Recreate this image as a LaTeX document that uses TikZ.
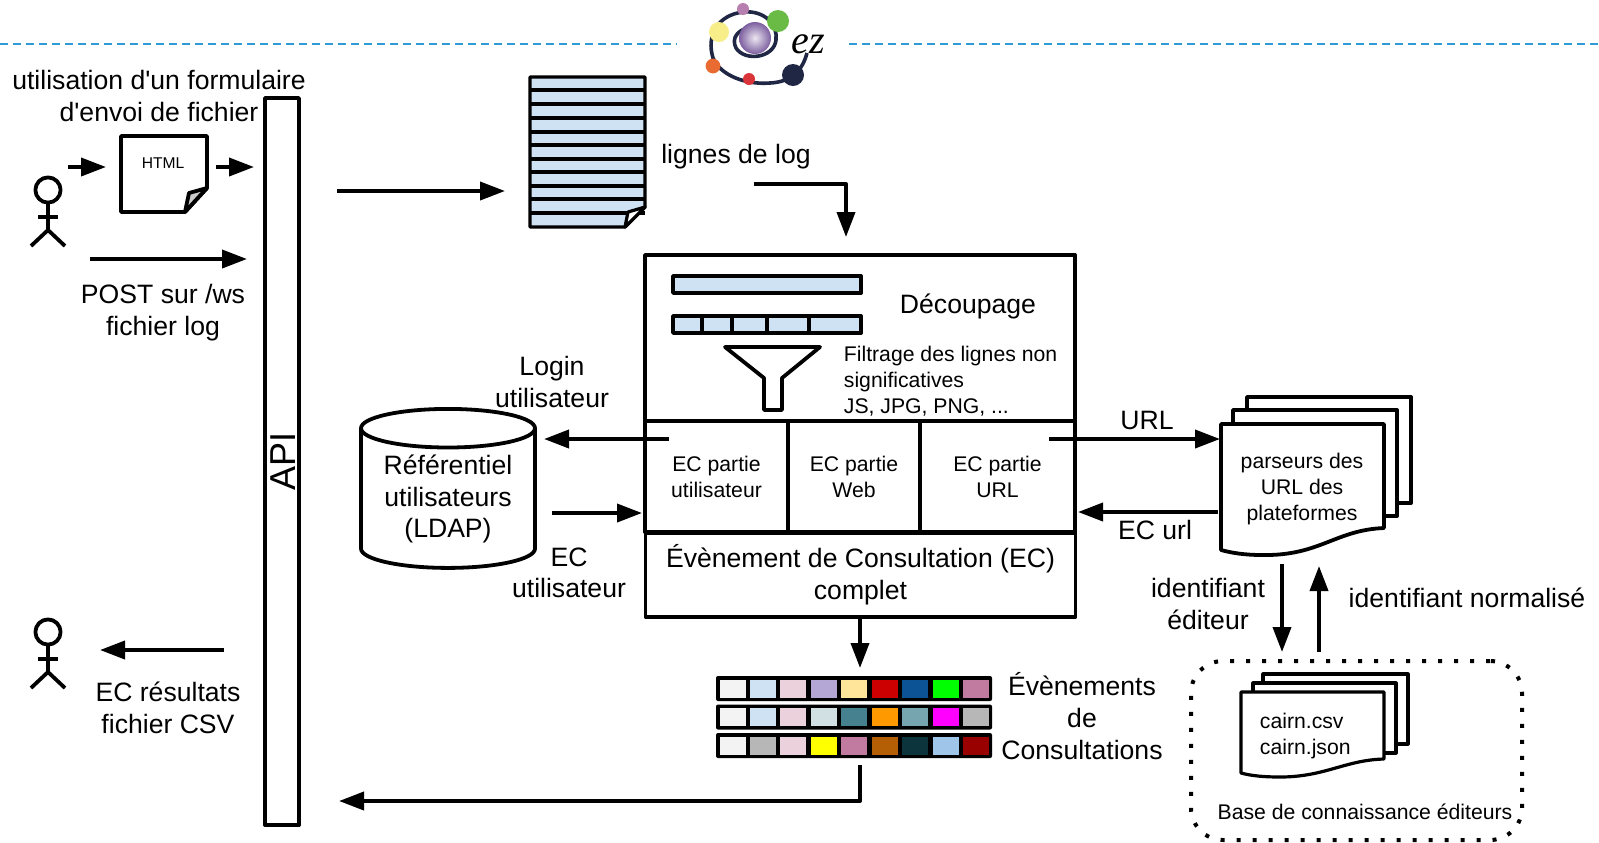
\documentclass[tikz,border=0pt]{standalone}
\usepackage{fontspec}
\setmainfont{Liberation Sans}
\newfontfamily\logofont{Liberation Serif}
\usetikzlibrary{arrows.meta, positioning, shapes.geometric}
\definecolor{bleuligne}{HTML}{CFE2F3}
\definecolor{bleutiret}{HTML}{2E9BD6}
\definecolor{logoVert}{HTML}{6ABB45}
\definecolor{logoRose}{HTML}{B77FB0}
\definecolor{logoJaune}{HTML}{F7EE8A}
\definecolor{logoOrange}{HTML}{E96B32}
\definecolor{logoRouge}{HTML}{D8343A}
\definecolor{logoNuit}{HTML}{1F2744}
\definecolor{logoViolet}{HTML}{7D5FA0}
\tikzset{
	grand/.style={font=\fontsize{13.3}{15.8}\selectfont, align=center, inner sep=0pt},
	petit/.style={font=\fontsize{10.6}{13}\selectfont, align=center, inner sep=0pt},
	cellule/.style={draw, petit, minimum height=55.5pt},
	feuille/.style={draw, fill=white},
	barre/.style={draw, fill=bleuligne}
}
\begin{document}
\begin{tikzpicture}[x=0.5pt,y=-0.5pt, line width=1.9pt, line join=round, >={Triangle[length=12.5pt,width=9pt]}]
	\useasboundingbox (0,0) rectangle (1599,842);

	% Bandeau et logo
	\draw[bleutiret, line width=1pt, dash pattern=on 3.75pt off 2.75pt] (0,44) -- (677,44);
	\draw[bleutiret, line width=1pt, dash pattern=on 3.75pt off 2.75pt] (849,44) -- (1599,44);
	\draw[logoNuit, line width=1.8pt] (807,53) .. controls (802,72) and (790,82) .. (770,83)
		.. controls (745,85) and (720,75) .. (713,58) .. controls (706,35) and (718,15) .. (743,12)
		.. controls (765,10) and (778,25) .. (776,40) .. controls (774,58) and (745,62) .. (736,48)
		.. controls (731,38) and (738,30) .. (748,28);
	\shade[inner color=white!85!logoViolet, outer color=logoViolet] (755,38) circle (8pt);
	\fill[logoVert] (778,21) circle (5.5pt);
	\fill[logoRose] (743,9) circle (3pt);
	\fill[logoJaune] (719,32) circle (5pt);
	\fill[logoOrange] (713,66) circle (3.7pt);
	\fill[logoRouge] (749,79) circle (3pt);
	\fill[logoNuit] (793,75) circle (5.5pt);
	\node[font=\fontsize{20}{20}\selectfont\logofont\itshape, inner sep=0pt] (logoEz) at (808,44) {ez};

	% Utilisateurs
	\foreach \dy in {0,442} {
		\draw (48,190+\dy) circle (6.3pt);
		\draw (48,203+\dy) -- (48,230+\dy);
		\draw (38,217+\dy) -- (58,217+\dy);
		\draw (31,246+\dy) -- (48,230+\dy) -- (65,246+\dy);
	}

	% Envoi par formulaire
	\node[grand] (texteFormulaire) at (159,96) {utilisation d\textquotesingle un formulaire\\d\textquotesingle envoi de fichier};
	\draw[feuille] (121,136) -- (207,136) -- (207,188) -- (185,212) -- (121,212) -- cycle;
	\draw[fill=black!20] (207,188) -- (189,193) -- (185,212) -- cycle;
	\node[font=\fontsize{7.8}{9}\selectfont, inner sep=0pt] (texteHtml) at (163,163) {HTML};
	\coordinate (actDep) at (68,167);
	\coordinate (htmlArr) at (106,167);
	\coordinate (htmlDep) at (216,167);
	\coordinate (apiArr) at (254,167);
	\draw[->] (actDep) -- (htmlArr);
	\draw[->] (htmlDep) -- (apiArr);
	\coordinate (postDep) at (90,259);
	\coordinate (postArr) at (247,259);
	\draw[->] (postDep) -- (postArr);
	\node[grand, font=\fontsize{13.3}{16}\selectfont] (textePost) at (163,313) {POST sur /ws\\fichier log};

	% API
	\node[draw, minimum width=17pt, minimum height=363.5pt, inner sep=0pt] (api) at (282,461.5) {};
	\node[font=\fontsize{18}{18}\selectfont, rotate=90, inner sep=0pt] (texteApi) at (283,461) {API};

	% Fichier de log
	\coordinate (apiDep) at (337,191);
	\coordinate (logArr) at (505,191);
	\draw[->] (apiDep) -- (logArr);
	\draw[barre, line width=1.7pt] (530,77) -- (645,77) -- (645,207) -- (625,227) -- (530,227) -- cycle;
	\foreach \y in {90,104,118,132,145,159,172,186,199,213} {
		\draw[line width=1.6pt] (530,\y) -- (645,\y);
	}
	\draw[fill=white, line width=1.6pt] (645,207) -- (628,212) -- (625,227) -- cycle;
	\node[grand] (texteLignes) at (736,157) {lignes de log};
	\coordinate (lignesDep) at (754,184);
	\coordinate (coude) at (846,184);
	\coordinate (decoupeArr) at (846,237);
	\draw[->] (lignesDep) -- (coude) -- (decoupeArr);

	% Decoupage
	\node[draw, minimum width=215pt, minimum height=83pt, inner sep=0pt] (decoupe) at (860,338) {};
	\draw[barre] (673,276) rectangle (861,293);
	\draw[barre] (673,316) rectangle (861,333);
	\foreach \x in {702,732,767,809} {
		\draw (\x,316) -- (\x,333);
	}
	\node[grand] (texteDecoupe) at (968,306) {Découpage};
	\draw (725,347) -- (820,347) -- (782,378) -- (782,410) -- (764,410) -- (764,378) -- cycle;
	\node[petit, align=left, anchor=north west] (texteFiltre) at (842,344) {Filtrage des lignes non\\significatives\\JS, JPG, PNG, ...};

	% Parties de l'EC
	\node[cellule, minimum width=71.5pt] (ecUser) at (716.5,476.5) {EC partie\\utilisateur};
	\node[cellule, minimum width=66pt] (ecWeb) at (854,476.5) {EC partie\\Web};
	\node[cellule, minimum width=77.5pt] (ecUrl) at (997.5,476.5) {EC partie\\URL};
	\node[draw, grand, minimum width=215pt, minimum height=42pt] (ecComplet) at (860.5,575) {Évènement de Consultation (EC)\\complet};

	% Referentiel
	\node[draw, fill=white, shape=cylinder, shape border rotate=90, aspect=0.3, minimum width=87pt, minimum height=79.5pt, inner sep=0pt, grand] (ldap) at (448,499) {Référentiel\\utilisateurs\\(LDAP)};
	\node[grand] (texteLogin) at (552,382) {Login\\utilisateur};
	\node[grand] (texteEcUser) at (569,573) {EC\\utilisateur};
	\coordinate (loginDep) at (669,439);
	\coordinate (loginArr) at (544,439);
	\coordinate (ecUserDep) at (552,513);
	\coordinate (ecUserArr) at (642,513);
	\draw[->] (loginDep) -- (loginArr);
	\draw[->] (ecUserDep) -- (ecUserArr);

	% Parseurs
	\draw[feuille] (1247,397) rectangle (1411,503);
	\draw[feuille] (1233,410) rectangle (1397,516);
	\draw[feuille] (1221,424) -- (1384,424) -- (1384,528) .. controls (1335,530) and (1320,556) .. (1262,555) .. controls (1245,555) and (1232,553) .. (1221,550) -- cycle;
	\node[petit, font=\fontsize{10.6}{12.8}\selectfont] (texteParseurs) at (1302,489) {parseurs des\\URL des\\plateformes};
	\coordinate (urlDep) at (1049,439);
	\coordinate (urlArr) at (1220,439);
	\coordinate (ecUrlDep) at (1218,512);
	\coordinate (ecUrlArr) at (1078,512);
	\draw[->] (urlDep) -- (urlArr);
	\draw[->] (ecUrlDep) -- (ecUrlArr);
	\node[grand] (texteUrl) at (1147,420) {URL};
	\node[grand] (texteEcUrl) at (1155,530) {EC url};

	% Base de connaissance
	\node[draw, line width=2pt, dash pattern=on 2pt off 6pt, rounded corners=16pt, minimum width=165.5pt, minimum height=89.5pt, inner sep=0pt] (base) at (1356.5,750.5) {};
	\draw[feuille, line width=1.6pt] (1263,674) rectangle (1408,744);
	\draw[feuille, line width=1.6pt] (1253,683) rectangle (1396,753);
	\draw[feuille, line width=1.6pt] (1241,692) -- (1384,692) -- (1384,759) .. controls (1345,760) and (1325,777) .. (1280,777) .. controls (1265,777) and (1252,776) .. (1241,773) -- cycle;
	\node[petit, align=left, anchor=north west] (texteCairn) at (1258,711) {cairn.csv\\cairn.json};
	\node[petit] (texteBase) at (1365,812) {Base de connaissance éditeurs};
	\coordinate (editeurDep) at (1282,564);
	\coordinate (editeurArr) at (1282,652);
	\coordinate (normeDep) at (1319,652);
	\coordinate (normeArr) at (1319,566);
	\draw[->] (editeurDep) -- (editeurArr);
	\draw[->] (normeDep) -- (normeArr);
	\node[grand] (texteEditeur) at (1208,604) {identifiant\\éditeur};
	\node[grand] (texteNorme) at (1467,598) {identifiant normalisé};

	% Evenements de consultation
	\coordinate (completDep) at (860,617);
	\coordinate (lignesArr) at (860,668);
	\draw[->] (completDep) -- (lignesArr);
	\foreach \y/\liste in {676/{F3F3F3,CFE2F3,EAD1DC,B4A7D6,FFE599,CC0000,0B5394,00FF00,C27BA0},
		704.5/{F3F3F3,CFE2F3,EAD1DC,D0E0E3,45818E,FF9900,76A5AF,FF00FF,B7B7B7},
		733/{F3F3F3,B7B7B7,EAD1DC,FFFF00,C27BA0,B45F06,0C343D,9FC5E8,990000}} {
		\fill[rounded corners=1pt] (716,\y) rectangle (992,\y+25);
		\foreach \col [count=\i from 0] in \liste {
			\definecolor{couleur}{HTML}{\col}
			\fill[couleur] ({719.5+\i*30.45},\y+3.5) rectangle ({743.5+\i*30.45+2},\y+21.5);
		}
	}
	\node[grand, font=\fontsize{13.3}{16.2}\selectfont] (texteEvts) at (1082,716) {Évènements\\de\\Consultations};
	\coordinate (evtsDep) at (860,765);
	\coordinate (coudeBas) at (860,801);
	\coordinate (apiBasArr) at (339,801);
	\draw[->] (evtsDep) -- (coudeBas) -- (apiBasArr);

	% Retour vers l'utilisateur
	\coordinate (retourDep) at (224,650);
	\coordinate (retourArr) at (100,650);
	\draw[->] (retourDep) -- (retourArr);
	\node[grand] (texteRetour) at (168,708) {EC résultats\\fichier CSV};

\end{tikzpicture}
\end{document}
